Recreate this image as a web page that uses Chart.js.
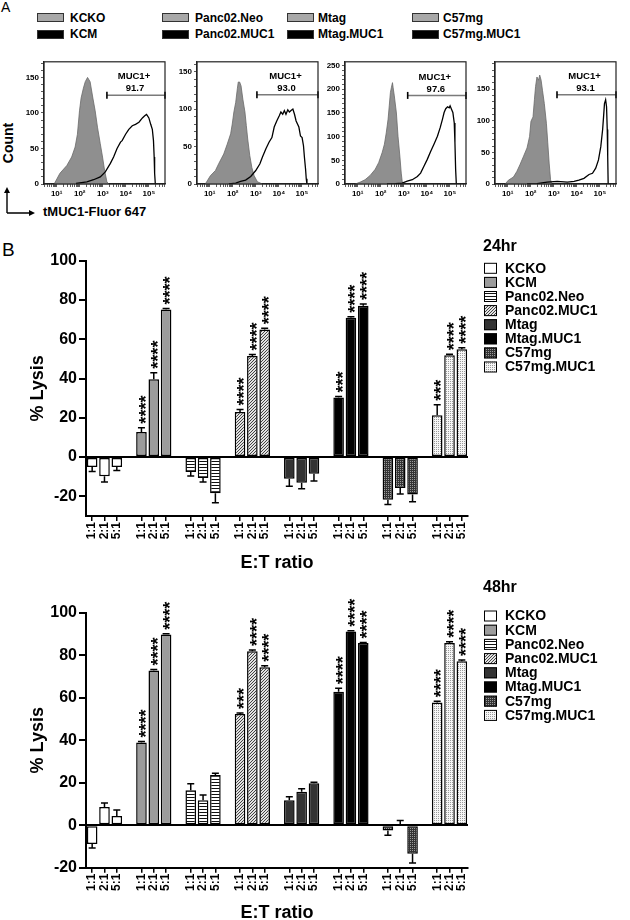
<!DOCTYPE html>
<html>
<head>
<meta charset="utf-8">
<script src="https://cdn.jsdelivr.net/npm/chart.js@4.4.1/dist/chart.umd.min.js"></script>
<style>
html, body { margin: 0; padding: 0; background: #fff; }
#fig { position: relative; width: 630px; height: 920px; overflow: hidden; font-family: 'Liberation Sans', Arial, sans-serif; color: #000; }
#fig canvas { position: absolute; }
.txt { position: absolute; white-space: nowrap; line-height: 1; }
.sw { position: absolute; width: 25px; height: 7px; border: 1px solid #333; }
</style>
</head>
<body>
<div id="fig">
  <div class="txt" style="left:1px;top:0px;font-size:14px;">A</div>
  <div class="txt" style="left:2px;top:240px;font-size:19px;">B</div>
  <div class="txt" style="left:8px;top:143px;font-size:14px;font-weight:bold;transform:translate(-50%,-50%) rotate(-90deg);">Count</div>
  <div class="txt" style="left:43px;top:205px;font-size:13px;font-weight:bold;">tMUC1-Fluor 647</div>
  <svg style="position:absolute;left:0;top:180px" width="40" height="40">
    <path d="M7 33 L7 10 M7 33 L31 33" stroke="#000" stroke-width="1.4" fill="none"/>
    <path d="M7 7 L4 13 L10 13 Z M35 33 L29 30 L29 36 Z" fill="#000"/>
  </svg>
  <div id="legendA"></div>

  <canvas id="h1" width="161" height="155" style="left:12px;top:55px"></canvas>
  <canvas id="h2" width="161" height="155" style="left:165px;top:55px"></canvas>
  <canvas id="h3" width="161" height="155" style="left:313px;top:55px"></canvas>
  <canvas id="h4" width="161" height="155" style="left:463px;top:55px"></canvas>

  <canvas id="bar24" width="630" height="357" style="left:0;top:215px"></canvas>
  <canvas id="bar48" width="630" height="350" style="left:0;top:572px"></canvas>
</div>

<script>
const FONT = "'Liberation Sans', Arial, sans-serif";

// ---- Panel A : histogrammes de cytométrie ----
const pairNames = [['KCKO', 'KCM'], ['Panc02.Neo', 'Panc02.MUC1'], ['Mtag', 'Mtag.MUC1'], ['C57mg', 'C57mg.MUC1']];

const kckoX = [0.89, 1.14, 1.44, 1.65, 1.80, 1.90, 1.99, 2.06, 2.16, 2.24, 2.34, 2.45, 2.57, 2.67, 2.77, 2.89, 2.99, 3.08, 3.18, 3.26];
const kckoY = [0, 15, 26, 38, 52, 70, 103, 121, 135, 144, 150, 144, 121, 103, 80, 57, 38, 19, 3, 0];
const kcmX = [1.84, 2.31, 2.60, 2.89, 3.11, 3.33, 3.47, 3.62, 3.77, 3.84, 3.99, 4.13, 4.28, 4.42, 4.57, 4.72, 4.82, 4.90, 5.00, 5.08, 5.15, 5.20, 5.23, 5.25, 5.28];
const kcmY = [1, 3, 6, 10, 17, 29, 38, 50, 59, 61, 70, 77, 82, 84, 87, 93, 96, 98, 93, 84, 77, 61, 38, 15, 0];

const neoX = [0.81, 1.03, 1.25, 1.39, 1.61, 1.76, 1.91, 1.98, 2.05, 2.13, 2.20, 2.24, 2.30, 2.36, 2.44, 2.53, 2.59, 2.65, 2.74, 2.83, 2.93, 3.07, 3.29];
const neoY = [0, 11, 18, 27, 40, 53, 67, 80, 96, 109, 127, 136, 136, 131, 113, 96, 78, 60, 38, 22, 11, 3, 0];
const pmucX = [1.83, 2.13, 2.34, 2.56, 2.78, 3.00, 3.18, 3.29, 3.44, 3.58, 3.70, 3.80, 3.91, 4.02, 4.09, 4.17, 4.24, 4.31, 4.39, 4.46, 4.53, 4.61, 4.68, 4.75, 4.87, 4.94, 5.01, 5.07, 5.11, 5.16, 5.19, 5.22];
const pmucY = [0, 1.3, 3.5, 5.3, 10, 18, 27, 36, 47, 56, 62, 76, 84, 91, 96, 93, 98, 93, 99, 96, 98, 100, 93, 84, 76, 64, 62, 51, 36, 20, 7, 0];

const mtagX = [0.89, 1.11, 1.32, 1.54, 1.76, 1.91, 2.06, 2.16, 2.24, 2.32, 2.37, 2.42, 2.46, 2.51, 2.54, 2.59, 2.68, 2.75, 2.83, 2.89, 2.94, 3.00];
const mtagY = [0, 4, 9, 18, 31, 45, 66, 84, 108, 137, 165, 193, 203, 214, 203, 186, 150, 101, 59, 23, 2, 0];
const mmucX = [2.27, 2.64, 2.93, 3.15, 3.37, 3.59, 3.73, 3.88, 4.02, 4.17, 4.31, 4.46, 4.58, 4.68, 4.75, 4.82, 4.90, 4.97, 5.01, 5.07, 5.13, 5.19, 5.22, 5.25, 5.28];
const mmucY = [0, 0.5, 2, 6, 9, 16, 23, 38, 52, 69, 84, 101, 119, 137, 151, 159, 163, 161, 165, 158, 151, 129, 87, 31, 0];

const c57X = [0.89, 1.03, 1.25, 1.40, 1.54, 1.69, 1.84, 1.95, 2.01, 2.10, 2.16, 2.21, 2.27, 2.34, 2.39, 2.45, 2.51, 2.59, 2.68, 2.74, 2.80, 2.86, 2.91];
const c57Y = [0, 6, 11, 20, 31, 44, 57, 75, 99, 106, 133, 154, 169, 164, 172, 164, 148, 127, 96, 65, 33, 7, 0];
const cmucX = [1.84, 2.27, 2.71, 3.15, 3.59, 3.88, 4.09, 4.31, 4.53, 4.68, 4.82, 4.94, 5.04, 5.12, 5.16, 5.20, 5.25, 5.29, 5.32, 5.34, 5.36];
const cmucY = [0, 0.5, 3, 4, 3, 4, 6, 9, 15, 17, 25, 38, 59, 86, 106, 127, 133, 122, 86, 44, 0];

const greyX = [kckoX, neoX, mtagX, c57X], greyY = [kckoY, neoY, mtagY, c57Y];
const blackX = [kcmX, pmucX, mmucX, cmucX], blackY = [kcmY, pmucY, mmucY, cmucY];

// portes MUC1+
const gateStart = [3.18, 3.05, 3.17, 3.14];
const gateLevel = [125, 119, 187, 141];
const gatePct = ['91.7', '93.0', '97.6', '93.1'];

// axes
const xMin = 0.45, xMax = 5.7;
const xTickValues = [1, 2, 3, 4, 5];
const xTickLabels = ['10\u00b9', '10\u00b2', '10\u00b3', '10\u2074', '10\u2075'];
const yMax = [172, 163, 258, 193];
const yTickLabels = [[0, 50, 100, 150], [0, 50, 100, 150], [0, 50, 100, 150, 200, 250], [0, 50, 100, 150]];

// ---- Panel B : % lyse ----
const ratios = ['1:1', '2:1', '5:1'];
const cellLines = ['KCKO', 'KCM', 'Panc02.Neo', 'Panc02.MUC1', 'Mtag', 'Mtag.MUC1', 'C57mg', 'C57mg.MUC1'];

const kcko24 = [-5.1, -9.7, -5.1],  kcko24Err = [2.2, 3.0, 1.7];
const kcm24 = [12.8, 39.6, 75.2],   kcm24Err = [2.2, 3.4, 0.5];
const neo24 = [-7.6, -10.7, -18.4], neo24Err = [2.0, 2.0, 4.9];
const pmuc24 = [23.0, 51.5, 65.0],  pmuc24Err = [1.2, 0.7, 0.6];
const mtag24 = [-11.0, -13.1, -8.5], mtag24Err = [3.8, 3.0, 3.7];
const mmuc24 = [30.3, 70.9, 77.0],  mmuc24Err = [0.5, 0.5, 1.0];
const c57_24 = [-21.7, -15.8, -19.0], c57_24Err = [2.4, 3.0, 3.8];
const cmuc24 = [21.3, 51.9, 54.9],  cmuc24Err = [5.4, 0.5, 0.8];

const kcko48 = [-8.8, 8.6, 4.3],    kcko48Err = [1.9, 1.9, 2.8];
const kcm48 = [38.9, 72.8, 89.8],   kcm48Err = [0.5, 0.5, 0.3];
const neo48 = [16.5, 11.7, 23.6],   neo48Err = [3.0, 2.5, 0.8];
const pmuc48 = [52.3, 81.9, 74.3],  pmuc48Err = [0.5, 0.5, 0.7];
const mtag48 = [11.8, 15.7, 19.7],  mtag48Err = [1.6, 1.5, 0.5];
const mmuc48 = [62.8, 91.2, 85.7],  mmuc48Err = [1.6, 0.3, 0.3];
const c57_48 = [-2.5, 0.6, -13.4],  c57_48Err = [2.2, 1.6, 4.4];
const cmuc48 = [57.8, 85.8, 77.2],  cmuc48Err = [0.5, 0.5, 0.5];

const none = ['', '', ''];
const stars24 = [none, ['****', '****', '****'], none, ['****', '****', '****'], none, ['***', '****', '****'], none, ['***', '****', '****']];
const stars48 = [none, ['****', '****', '****'], none, ['***', '****', '****'], none, ['****', '****', '****'], none, ['****', '****', '****']];

const yTicks24 = [-20, 0, 20, 40, 60, 80, 100];
const yTicks48 = [-20, 0, 20, 40, 60, 80, 100];

Chart.defaults.font.family = FONT;
Chart.defaults.color = '#000';

// Légende du panneau A (HTML)
const swX = [37, 162, 287, 412], txtX = [70, 195, 318, 443], rowY = [17.5, 34];
const legendA = document.getElementById('legendA');
pairNames.forEach((pair, i) => {
    pair.forEach((name, r) => {
        const sw = document.createElement('div');
        sw.className = 'sw';
        sw.style.left = swX[i] + 'px';
        sw.style.top = (rowY[r] - 4.5) + 'px';
        sw.style.background = r === 0 ? '#a8a8a8' : '#000';
        legendA.appendChild(sw);
        const t = document.createElement('div');
        t.className = 'txt';
        t.style.cssText = `left:${txtX[i]}px;top:${rowY[r] - 6}px;font-size:12px;font-weight:bold;`;
        t.textContent = name;
        legendA.appendChild(t);
    });
});

// Cadre autour des histogrammes
const framePlugin = {
    id: 'frame',
    afterDraw(chart) {
        const {ctx, chartArea: a} = chart;
        ctx.save();
        ctx.strokeStyle = '#222';
        ctx.lineWidth = 1.2;
        ctx.strokeRect(a.left, a.top, a.right - a.left, a.bottom - a.top);
        ctx.restore();
    }
};

// Texte de la porte MUC1+
const gateTextPlugin = {
    id: 'gateText',
    afterDatasetsDraw(chart, args, opts) {
        const pts = chart.getDatasetMeta(2).data;
        const cx = (pts[0].x + pts[1].x) / 2, y = pts[0].y;
        const ctx = chart.ctx;
        ctx.save();
        ctx.font = 'bold 9.5px ' + FONT;
        ctx.fillStyle = '#000';
        ctx.textAlign = 'center';
        ctx.textBaseline = 'middle';
        ctx.fillText('MUC1+', cx - 2, y - 18.5);
        ctx.fillText(opts.pct, cx - 1, y - 6.5);
        ctx.restore();
    }
};

function pts(xs, ys) {
    return xs.map((x, i) => ({x: x, y: ys[i]}));
}

// positions des petites graduations (log)
const xTickPositions = [];
for (let d = 0; d <= 5; d++) {
    for (let k = 1; k <= 9; k++) {
        const v = d + Math.log10(k);
        if (v >= xMin && v <= xMax) xTickPositions.push(k === 1 ? d : v);
    }
}

function histChart(id, idx) {
    const yt = [];
    for (let v = 0; v <= yMax[idx]; v += 10) yt.push(v);
    new Chart(document.getElementById(id), {
        type: 'line',
        data: {
            datasets: [
                {label: pairNames[idx][1], data: pts(blackX[idx], blackY[idx]), borderColor: '#000', borderWidth: 1.3, pointRadius: 0, fill: false, order: 1},
                {label: pairNames[idx][0], data: pts(greyX[idx], greyY[idx]), borderColor: '#6a6a6a', borderWidth: 0.8, backgroundColor: '#8f8f8f', pointRadius: 0, fill: 'origin', order: 2},
                {label: 'gate', data: [{x: gateStart[idx], y: gateLevel[idx]}, {x: xMax, y: gateLevel[idx]}],
                    borderColor: '#7a7a7a', borderWidth: 1.6, pointStyle: 'line', pointRotation: 90, pointRadius: 3.5,
                    pointBorderColor: '#000', pointBorderWidth: 1.6, clip: false, order: 0}
            ]
        },
        options: {
            responsive: false,
            animation: false,
            layout: {padding: {top: 6, right: 8, left: 0, bottom: 0}},
            plugins: {legend: {display: false}, tooltip: {enabled: false}, gateText: {pct: gatePct[idx]}},
            scales: {
                x: {
                    type: 'linear', min: xMin, max: xMax,
                    afterFit: s => { s.height = 26; },
                    afterBuildTicks: s => { s.ticks = xTickPositions.map(v => ({value: v})); },
                    ticks: {
                        autoSkip: false, maxRotation: 0, padding: 2,
                        font: {size: 8, weight: 'bold'},
                        callback: v => { const k = xTickValues.indexOf(v); return k < 0 ? '' : xTickLabels[k]; }
                    },
                    grid: {drawOnChartArea: false, tickLength: 3, color: '#333', lineWidth: 0.8},
                    border: {color: '#222', width: 1.2}
                },
                y: {
                    min: 0, max: yMax[idx],
                    afterFit: s => { s.width = 32; },
                    afterBuildTicks: s => { s.ticks = yt.map(v => ({value: v})); },
                    ticks: {
                        autoSkip: false, padding: 2,
                        font: {size: 8, weight: 'bold'},
                        callback: v => yTickLabels[idx].includes(v) ? String(v) : ''
                    },
                    grid: {drawOnChartArea: false, tickLength: 3, color: '#333', lineWidth: 0.8},
                    border: {color: '#222', width: 1.2}
                }
            }
        },
        plugins: [framePlugin, gateTextPlugin]
    });
}

histChart('h1', 0);
histChart('h2', 1);
histChart('h3', 2);
histChart('h4', 3);

// ---- motifs de remplissage ----
function tile(w, h, bg, fg, cells) {
    const c = document.createElement('canvas');
    c.width = w; c.height = h;
    const g = c.getContext('2d');
    g.fillStyle = bg; g.fillRect(0, 0, w, h);
    g.fillStyle = fg;
    cells.forEach(p => g.fillRect(p[0], p[1], p[2] || 1, p[3] || 1));
    return g.createPattern(c, 'repeat');
}
const pctx = document.getElementById('bar24').getContext('2d');
const fills = [
    '#ffffff',
    '#9c9c9c',
    tile(4, 3, '#ffffff', '#111', [[0, 0, 4, 1]]),
    tile(3, 3, '#e2e2e2', '#444', [[2, 0], [1, 1], [0, 2]]),
    '#333333',
    '#000000',
    tile(2, 2, '#333', '#9a9a9a', [[0, 0]]),
    tile(2, 2, '#f6f6f6', '#9a9a9a', [[0, 0]])
];

// catégories : 3 barres par lignée + un vide entre les groupes
const slotLabels = [];
cellLines.forEach((c, g) => {
    ratios.forEach(r => slotLabels.push(r));
    if (g < cellLines.length - 1) slotLabels.push('');
});
function place(g, vals) {
    const out = slotLabels.map(() => null);
    vals.forEach((v, j) => { out[g * 4 + j] = v; });
    return out;
}

// barres d'erreur + étoiles
const barExtras = {
    id: 'barExtras',
    afterDatasetsDraw(chart) {
        const ctx = chart.ctx, ys = chart.scales.y;
        chart.data.datasets.forEach((ds, di) => {
            const meta = chart.getDatasetMeta(di);
            meta.data.forEach((bar, i) => {
                const v = ds.data[i];
                if (v == null) return;
                const e = ds.errors[i] || 0;
                const dir = v >= 0 ? 1 : -1;
                const yEnd = ys.getPixelForValue(v + dir * e);
                ctx.save();
                ctx.strokeStyle = '#000';
                ctx.lineWidth = 1.5;
                ctx.beginPath();
                ctx.moveTo(bar.x, bar.y);
                ctx.lineTo(bar.x, yEnd);
                ctx.moveTo(bar.x - 3.5, yEnd);
                ctx.lineTo(bar.x + 3.5, yEnd);
                ctx.stroke();
                const s = ds.stars[i];
                if (s) {
                    ctx.translate(bar.x, Math.min(yEnd, bar.y) - 4);
                    ctx.rotate(-Math.PI / 2);
                    ctx.font = 'bold 18px ' + FONT;
                    ctx.fillStyle = '#000';
                    ctx.textAlign = 'left';
                    ctx.textBaseline = 'alphabetic';
                    ctx.fillText(s, 0, 10.2);
                }
                ctx.restore();
            });
        });
    }
};

// légende à droite
const sideLegend = {
    id: 'sideLegend',
    afterDraw(chart, args, opts) {
        const ctx = chart.ctx;
        ctx.save();
        ctx.textAlign = 'left';
        ctx.textBaseline = 'middle';
        ctx.fillStyle = '#000';
        ctx.font = 'bold 16px ' + FONT;
        ctx.fillText(opts.title, opts.x, opts.titleY);
        ctx.font = 'bold 14px ' + FONT;
        chart.data.datasets.forEach((ds, i) => {
            const y = opts.firstY + i * opts.step;
            ctx.fillStyle = ds.backgroundColor;
            ctx.fillRect(opts.x + 1, y - 5.5, 13, 11);
            ctx.strokeStyle = '#000';
            ctx.lineWidth = 1;
            ctx.strokeRect(opts.x + 1.5, y - 5, 12, 10);
            ctx.fillStyle = '#000';
            ctx.fillText(ds.label, opts.x + 22, y + 0.5);
        });
        ctx.restore();
    }
};

function lysisChart(id, vals, errs, stars, yMin, yTicks, padTop, xHeight, legendOpts) {
    new Chart(document.getElementById(id), {
        type: 'bar',
        data: {
            labels: slotLabels,
            datasets: cellLines.map((name, g) => ({
                label: name,
                data: place(g, vals[g]),
                errors: place(g, errs[g]),
                stars: place(g, stars[g]),
                backgroundColor: fills[g],
                borderColor: '#000',
                borderWidth: 1.5,
                borderSkipped: false,
                grouped: false,
                barPercentage: 0.86,
                categoryPercentage: 1
            }))
        },
        options: {
            responsive: false,
            animation: false,
            layout: {padding: {top: padTop, right: 162, left: 0, bottom: 0}},
            plugins: {legend: {display: false}, tooltip: {enabled: false}, sideLegend: legendOpts},
            scales: {
                x: {
                    afterFit: s => { s.height = xHeight; },
                    ticks: {autoSkip: false, minRotation: 90, maxRotation: 90, padding: 1, font: {size: 12, weight: 'bold'}},
                    grid: {
                        drawOnChartArea: false, offset: false, tickLength: 5, lineWidth: 1.5,
                        tickColor: c => slotLabels[c.index] ? '#000' : 'rgba(0,0,0,0)'
                    },
                    border: {color: '#000', width: 2},
                    title: {display: true, text: 'E:T ratio', font: {size: 18, weight: 'bold', lineHeight: 1}, padding: 0}
                },
                y: {
                    min: yMin, max: 100,
                    afterFit: s => { s.width = 86; },
                    afterBuildTicks: s => { s.ticks = yTicks.map(v => ({value: v})); },
                    ticks: {padding: 2, font: {size: 16, weight: 'bold'}},
                    grid: {
                        tickLength: 7, lineWidth: 2, tickColor: '#000',
                        color: c => (c.tick && c.tick.value === 0) ? '#000' : 'rgba(0,0,0,0)'
                    },
                    border: {color: '#000', width: 2},
                    title: {display: true, text: '% Lysis', font: {size: 18, weight: 'bold', lineHeight: 1}, padding: {top: 29, bottom: 0}}
                }
            }
        },
        plugins: [barExtras, sideLegend]
    });
}

lysisChart('bar24',
    [kcko24, kcm24, neo24, pmuc24, mtag24, mmuc24, c57_24, cmuc24],
    [kcko24Err, kcm24Err, neo24Err, pmuc24Err, mtag24Err, mmuc24Err, c57_24Err, cmuc24Err],
    stars24, -30, yTicks24, 45.7, 56,
    {title: '24hr', x: 483, titleY: 32, firstY: 53.3, step: 14.1});

lysisChart('bar48',
    [kcko48, kcm48, neo48, pmuc48, mtag48, mmuc48, c57_48, cmuc48],
    [kcko48Err, kcm48Err, neo48Err, pmuc48Err, mtag48Err, mmuc48Err, c57_48Err, cmuc48Err],
    stars48, -20, yTicks48, 40.7, 54.3,
    {title: '48hr', x: 483, titleY: 16, firstY: 44, step: 14.2});
</script>
</body>
</html>
